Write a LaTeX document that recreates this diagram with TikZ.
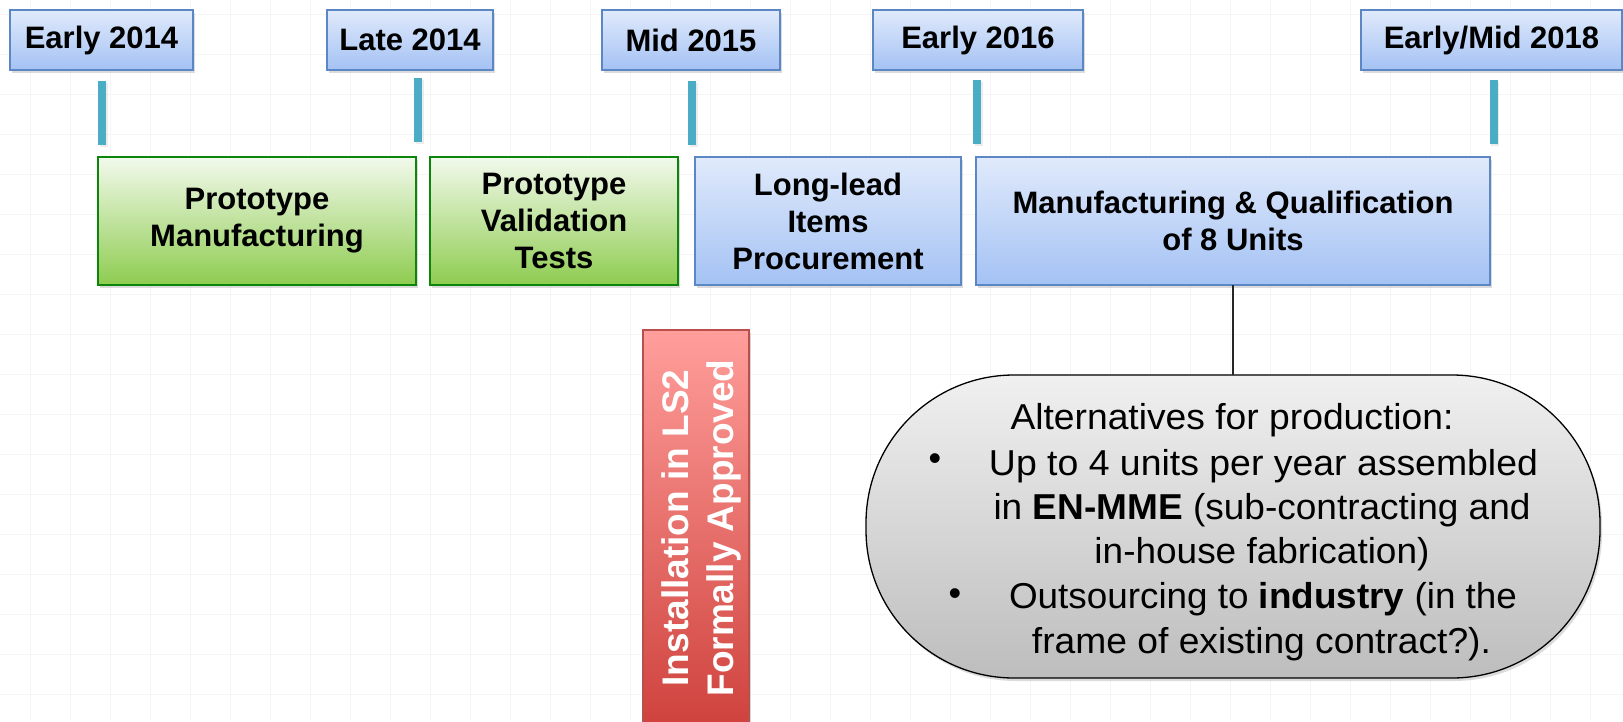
\documentclass[tikz,border=0pt]{standalone}
\usepackage{fontspec}
\setmainfont{Liberation Sans}
\usepackage{graphicx}
\usetikzlibrary{shadows}
\definecolor{dateTop}{HTML}{E0EAFB}
\definecolor{dateBot}{HTML}{A4C2F4}
\definecolor{blueBorder}{HTML}{5B87C5}
\definecolor{greenTop}{HTML}{F2F9EC}
\definecolor{greenBot}{HTML}{8ECC50}
\definecolor{greenBorder}{HTML}{0B860B}
\definecolor{tickCol}{HTML}{4BACC6}
\definecolor{redTop}{HTML}{FF9E9B}
\definecolor{redBot}{HTML}{CF423D}
\definecolor{redBorder}{HTML}{B9504C}
\definecolor{grayTop}{HTML}{F0F0F0}
\definecolor{grayBot}{HTML}{BDBDBD}
\definecolor{gridCol}{HTML}{F5F5F5}
\newcommand{\fitw}[2]{\resizebox{#1}{\height}{#2}}
\begin{document}
\begin{tikzpicture}[x=1pt,y=-1pt,
  every node/.style={inner sep=0pt, outer sep=0pt},
  shadowed/.style={drop shadow={opacity=0.28,shadow xshift=2pt,shadow yshift=-3pt}},
  datebox/.style={draw=blueBorder,line width=1.3pt,top color=dateTop,bottom color=dateBot,
    shadowed,minimum height=60pt,font=\fontsize{31}{36}\selectfont\bfseries},
  tickbar/.style={fill=tickCol,minimum width=8pt,minimum height=64pt,
    drop shadow={opacity=0.15,shadow xshift=1.5pt,shadow yshift=-2pt}},
  phase/.style={line width=1.3pt,minimum height=128pt,align=center,
    font=\fontsize{31}{37}\selectfont\bfseries,shadowed},
  greenphase/.style={phase,draw=greenBorder,top color=greenTop,bottom color=greenBot},
  bluephase/.style={phase,draw=blueBorder,top color=dateTop,bottom color=dateBot},
  redbox/.style={draw=redBorder,line width=1.3pt,top color=redTop,bottom color=redBot,
    minimum width=106pt,minimum height=396pt,shadowed},
  redtext/.style={rotate=90,align=center,text=white,font=\fontsize{37}{45}\selectfont\bfseries},
  bubble/.style={draw=black,line width=1.3pt,top color=grayTop,bottom color=grayBot,
    rounded corners=148pt,minimum width=734pt,minimum height=303pt,shadowed},
  bubtext/.style={anchor=base,font=\fontsize{36}{44}\selectfont},
  bullettext/.style={font=\fontsize{36}{44}\selectfont},
  link/.style={draw=black!85,line width=1.3pt}
]
\useasboundingbox (0,0) rectangle (1623,721);
\fill[white] (0,0) rectangle (1623,721);
% faint background grid
\foreach \gx in {30,70,...,1610} \draw[gridCol,line width=1pt] (\gx,0) -- (\gx,721);
\foreach \gy in {14,54,...,714} \draw[gridCol,line width=1pt] (0,\gy) -- (1623,\gy);

% date boxes
\node[datebox,minimum width=183pt] (d1) at (101.5,40) {Early 2014};
\node[datebox,minimum width=166pt] (d2) at (410,40) {Late 2014};
\node[datebox,minimum width=178pt] (d3) at (691,40) {Mid 2015};
\node[datebox,minimum width=210pt] (d4) at (978,40) {Early 2016};
\node[datebox,minimum width=261pt] (d5) at (1491.5,40) {Early/Mid 2018};

% tick bars
\node[tickbar] (t1) at (102,113) {};
\node[tickbar] (t2) at (418,110) {};
\node[tickbar] (t3) at (692,113) {};
\node[tickbar] (t4) at (977,112) {};
\node[tickbar] (t5) at (1493.5,112) {};

% phase boxes
\node[greenphase,minimum width=318pt] (pm) at (257,221) {Prototype\\Manufacturing};
\node[greenphase,minimum width=248pt] (pv) at (554,221) {Prototype\\Validation\\Tests};
\node[bluephase,minimum width=266pt] (ll) at (828,221) {Long-lead\\Items\\Procurement};
\node[bluephase,minimum width=514pt] (mq) at (1233,221) {Manufacturing \& Qualification\\of 8 Units};

% red milestone
\node[redbox] (inst) at (696,528) {};
\node[redtext] (insttext) at ([xshift=5pt]inst.center) {Installation in LS2\\Formally Approved};

% alternatives bubble
\node[bubble] (alt) at (1233,526.5) {};
\draw[link] (mq.south) -- (alt.north);

\node[bubtext] (l1) at (1232,429) {\fitw{443pt}{Alternatives for production:}};
\node[bubtext] (l2) at (1263.5,475) {\fitw{549pt}{Up to 4 units per year assembled}};
\node[bubtext] (l3) at (1262,519) {\fitw{537pt}{in \textbf{EN-MME} (sub-contracting and}};
\node[bubtext] (l4) at (1262,563) {\fitw{335pt}{in-house fabrication)}};
\node[bubtext] (l5) at (1263,608) {\fitw{508pt}{Outsourcing to \textbf{industry} (in the}};
\node[bubtext] (l6) at (1261.5,653) {\fitw{459pt}{frame of existing contract?).}};
\node[bullettext] (b1) at (935,462) {\textbullet};
\node[bullettext] (b2) at (955,597) {\textbullet};
\end{tikzpicture}
\end{document}
